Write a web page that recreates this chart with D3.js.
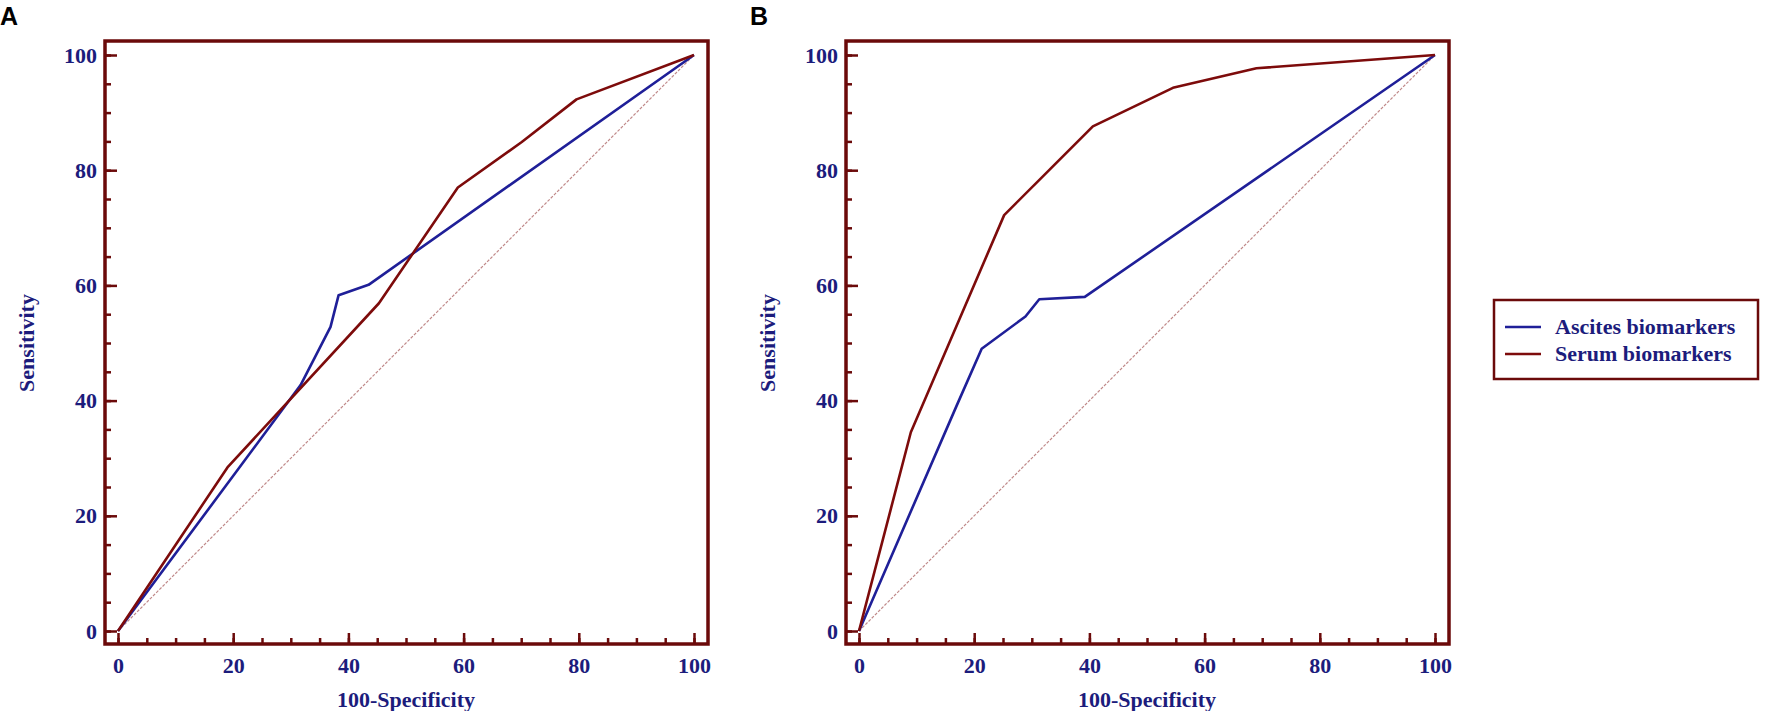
<!DOCTYPE html>
<html>
<head>
<meta charset="utf-8">
<script src="https://cdn.jsdelivr.net/npm/d3@7"></script>
<style>
  body { margin: 0; background: #fff; }
  svg { display: block; }
</style>
</head>
<body>
<script>
// ROC curve points (100-Specificity, Sensitivity)
var ascitesA_x = [0, 31.7, 36.9, 38.3, 43.5, 100];
var ascitesA_y = [0, 42.7, 52.8, 58.3, 60.1, 100];
var serumA_x = [0, 19, 45.3, 59, 70.1, 79.6, 100];
var serumA_y = [0, 28.4, 56.9, 77, 84.9, 92.3, 100];

var ascitesB_x = [0, 16.9, 21.3, 28.9, 31.3, 39.2, 100];
var ascitesB_y = [0, 39, 49, 54.6, 57.6, 58, 100];
var serumB_x = [0, 9, 25.2, 40.6, 54.5, 69, 100];
var serumB_y = [0, 34.5, 72.2, 87.6, 94.3, 97.7, 100];

var diag_x = [0, 100];
var diag_y = [0, 100];

var majorTicks = [0, 20, 40, 60, 80, 100];
var minorTicks = d3.range(0, 101, 5);
var seriesNames = ["Ascites biomarkers", "Serum biomarkers"];

var w = 1772, h = 711;
var frameCol = "#6b0a0a", textCol = "#1c1c7c";
var blueCol = "#1f1f98", redCol = "#7d0b0b";
var serif = "'Liberation Serif', 'Times New Roman', serif";

var svg = d3.select("body")
            .append("svg")
            .attr("width", w)
            .attr("height", h);

var zip = (xs, ys) => xs.map((x, i) => [x, ys[i]]);

function drawPanel(x0, letter, letterX, ascites, serum) {
    var xScale = d3.scaleLinear()
                   .domain([0, 100])
                   .range([x0, x0 + 576]);
    var yScale = d3.scaleLinear()
                   .domain([0, 100])
                   .range([631, 55]);

    var left = xScale(0) - 13, right = xScale(100) + 14;
    var top = 41, bottom = 644;

    var g = svg.append("g");

    // minor ticks
    g.append("g")
     .attr("transform", "translate(0," + bottom + ")")
     .call(d3.axisBottom(xScale).tickValues(minorTicks).tickSize(-6).tickFormat(""));
    g.append("g")
     .attr("transform", "translate(" + left + ",0)")
     .call(d3.axisLeft(yScale).tickValues(minorTicks).tickSize(-6).tickFormat(""));

    // major ticks with labels
    g.append("g")
     .attr("class", "major")
     .attr("transform", "translate(0," + bottom + ")")
     .call(d3.axisBottom(xScale).tickValues(majorTicks).tickSize(-11).tickPadding(13));
    g.append("g")
     .attr("class", "major")
     .attr("transform", "translate(" + left + ",0)")
     .call(d3.axisLeft(yScale).tickValues(majorTicks).tickSize(-12).tickPadding(8));

    g.selectAll(".domain").remove();
    g.selectAll(".tick line")
     .attr("stroke", frameCol)
     .attr("stroke-width", 2.5);
    g.selectAll(".tick text")
     .attr("fill", textCol)
     .style("font-family", serif)
     .style("font-weight", "bold")
     .style("font-size", "22px");

    // frame
    g.append("rect")
     .attr("x", left)
     .attr("y", top)
     .attr("width", right - left)
     .attr("height", bottom - top)
     .attr("fill", "none")
     .attr("stroke", frameCol)
     .attr("stroke-width", 3.5);

    var line = d3.line()
                 .x(d => xScale(d[0]))
                 .y(d => yScale(d[1]));

    g.append("path")
     .datum(zip(diag_x, diag_y))
     .attr("d", line)
     .attr("fill", "none")
     .attr("stroke", "#c08a8a")
     .attr("stroke-width", 1.2)
     .attr("stroke-dasharray", "3,1.5");

    g.append("path")
     .datum(ascites)
     .attr("d", line)
     .attr("fill", "none")
     .attr("stroke", blueCol)
     .attr("stroke-width", 2.6)
     .attr("stroke-linejoin", "round");

    g.append("path")
     .datum(serum)
     .attr("d", line)
     .attr("fill", "none")
     .attr("stroke", redCol)
     .attr("stroke-width", 2.6)
     .attr("stroke-linejoin", "round");

    // axis titles
    g.append("text")
     .attr("x", (xScale(0) + xScale(100)) / 2)
     .attr("y", 707)
     .attr("text-anchor", "middle")
     .attr("fill", textCol)
     .style("font-family", serif)
     .style("font-weight", "bold")
     .style("font-size", "22px")
     .text("100-Specificity");

    g.append("text")
     .attr("transform", "translate(" + (x0 - 84) + "," + yScale(50) + ") rotate(-90)")
     .attr("text-anchor", "middle")
     .attr("fill", textCol)
     .style("font-family", serif)
     .style("font-weight", "bold")
     .style("font-size", "22px")
     .text("Sensitivity");

    svg.append("text")
       .attr("x", letterX)
       .attr("y", 25)
       .attr("fill", "#000")
       .style("font-family", "'Liberation Sans', Arial, sans-serif")
       .style("font-weight", "bold")
       .style("font-size", "25px")
       .text(letter);
}

drawPanel(118, "A", 0, zip(ascitesA_x, ascitesA_y), zip(serumA_x, serumA_y));
drawPanel(859, "B", 750, zip(ascitesB_x, ascitesB_y), zip(serumB_x, serumB_y));

// legend
var legend = svg.append("g");
legend.append("rect")
      .attr("x", 1494)
      .attr("y", 300)
      .attr("width", 264)
      .attr("height", 79)
      .attr("fill", "none")
      .attr("stroke", frameCol)
      .attr("stroke-width", 2.5);

var legendItems = legend.selectAll("g.item")
      .data(seriesNames)
      .enter()
      .append("g")
      .attr("class", "item")
      .attr("transform", (d, i) => "translate(0," + (327 + i * 27) + ")");

legendItems.append("line")
      .attr("x1", 1505)
      .attr("x2", 1541)
      .attr("stroke", (d, i) => i == 0 ? blueCol : redCol)
      .attr("stroke-width", 2.5);

legendItems.append("text")
      .attr("x", 1555)
      .attr("y", 7)
      .attr("fill", textCol)
      .style("font-family", serif)
      .style("font-weight", "bold")
      .style("font-size", "22px")
      .text(d => d);
</script>
</body>
</html>
